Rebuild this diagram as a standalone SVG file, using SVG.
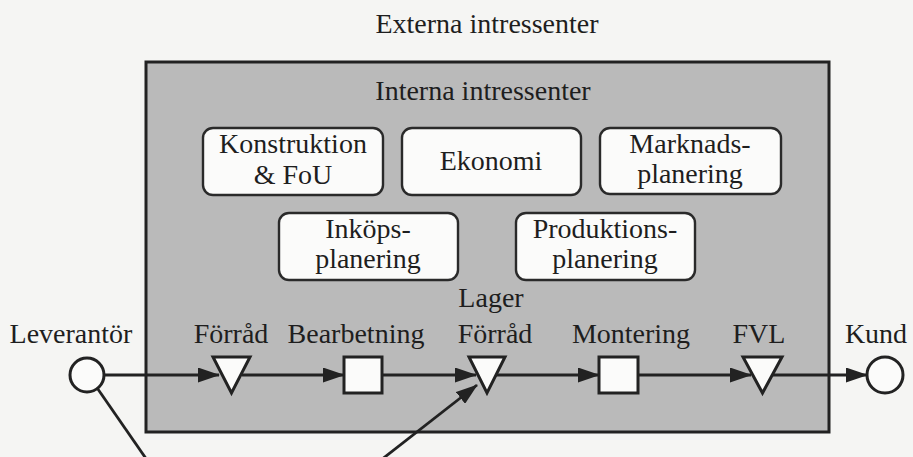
<svg xmlns="http://www.w3.org/2000/svg" width="913" height="457" viewBox="0 0 913 457">
<defs>
<style>
text{font-family:"Liberation Serif","Times New Roman",serif;font-size:28px;fill:#1e1e1e;text-anchor:middle}
.node{fill:#fbfbfa;stroke:#2a2a2a;stroke-width:2.4}
.sym{fill:#fbfbfa;stroke:#222;stroke-width:3}
.c{stroke:#222;stroke-width:2.8;fill:none}
.a{marker-end:url(#ah)}
</style>
<marker id="ah" viewBox="0 0 22 15" refX="21" refY="7.5" markerWidth="22" markerHeight="15" markerUnits="userSpaceOnUse" orient="auto">
<path d="M0,0 L22,7.5 L0,15 Z" fill="#222"/>
</marker>
</defs>
<rect width="913" height="457" fill="#f5f5f3"/>
<text x="487" y="33">Externa intressenter</text>
<g id="intern">
<rect x="146" y="62" width="683" height="370" fill="#bababa" stroke="#222" stroke-width="3"/>
<text x="483" y="100">Interna intressenter</text>
</g>
<g id="konstruktion"><rect class="node" x="203" y="128" width="180" height="67" rx="10"/><text x="293" y="153">Konstruktion</text><text x="293" y="184">&amp; FoU</text></g>
<g id="ekonomi"><rect class="node" x="402" y="128" width="179" height="67" rx="10"/><text x="491" y="170">Ekonomi</text></g>
<g id="marknad"><rect class="node" x="600" y="128" width="181" height="66" rx="10"/><text x="690" y="153">Marknads-</text><text x="690" y="183">planering</text></g>
<g id="inkop"><rect class="node" x="279" y="213" width="179" height="67" rx="10"/><text x="368" y="238">Inköps-</text><text x="368" y="268">planering</text></g>
<g id="produktion"><rect class="node" x="516" y="213" width="179" height="67" rx="10"/><text x="605" y="238">Produktions-</text><text x="605" y="268">planering</text></g>
<g id="leverantor"><circle class="sym" cx="87" cy="375" r="17"/><text x="71" y="343">Leverantör</text></g>
<g id="forrad"><polygon class="sym" points="213,357 250,357 231.5,393"/><text x="231" y="343">Förråd</text></g>
<g id="bearbetning"><rect class="sym" x="344" y="357" width="38" height="36"/><text x="356" y="343">Bearbetning</text></g>
<g id="lager"><polygon class="sym" points="469,357 505,357 487,393"/><text x="491" y="307">Lager</text><text x="495" y="343">Förråd</text></g>
<g id="montering"><rect class="sym" x="599" y="357" width="39" height="36"/><text x="631" y="343">Montering</text></g>
<g id="fvl"><polygon class="sym" points="743,357 782,357 762.5,393"/><text x="759" y="343">FVL</text></g>
<g id="kund"><circle class="sym" cx="885" cy="375" r="18"/><text x="876" y="343">Kund</text></g>
<g id="connectors">
<line class="c a" x1="104" y1="375" x2="219" y2="375"/>
<line class="c a" x1="242" y1="375" x2="344" y2="375"/>
<line class="c a" x1="382" y1="375" x2="476" y2="375"/>
<line class="c a" x1="496" y1="375" x2="599" y2="375"/>
<line class="c a" x1="638" y1="375" x2="751" y2="375"/>
<line class="c a" x1="773" y1="375" x2="867" y2="375"/>
<line class="c" x1="97.5" y1="388.5" x2="147" y2="460"/>
<line class="c a" x1="381" y1="460" x2="477" y2="385"/>
</g>
</svg>
